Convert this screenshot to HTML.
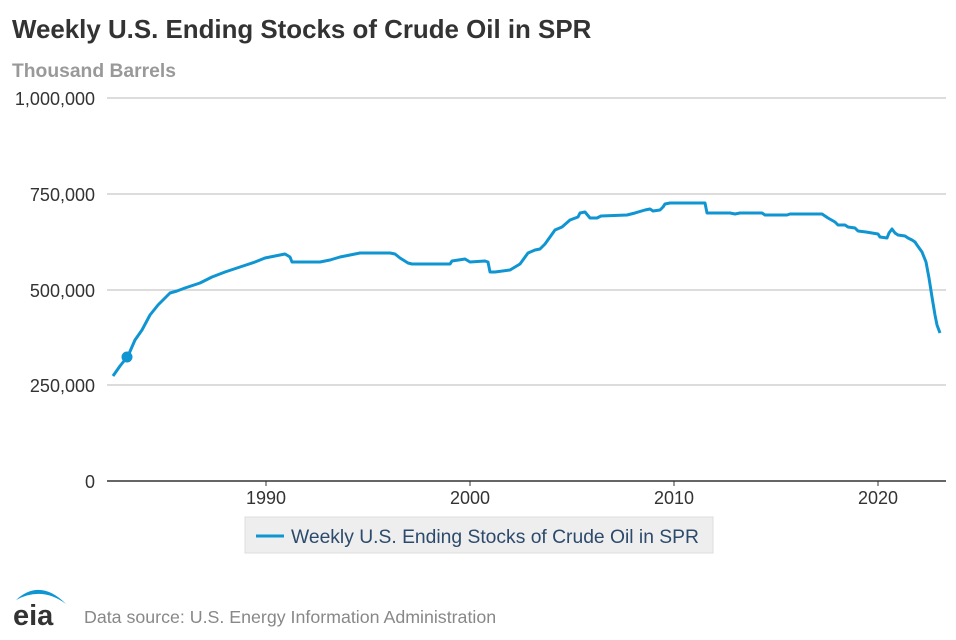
<!DOCTYPE html>
<html><head><meta charset="utf-8"><style>
body{margin:0;background:#fff;width:956px;height:635px;overflow:hidden;font-family:"Liberation Sans",Arial,sans-serif}
</style></head><body>
<svg width="956" height="635" xmlns="http://www.w3.org/2000/svg" font-family="Liberation Sans, Arial, sans-serif">
<text x="12" y="38" font-size="25.9" font-weight="bold" fill="#333">Weekly U.S. Ending Stocks of Crude Oil in SPR</text>
<text x="12" y="77" font-size="19.3" font-weight="bold" fill="#999">Thousand Barrels</text>
<g stroke="#c8c8c8" stroke-width="1.3">
<line x1="107" y1="98" x2="946" y2="98"/><line x1="107" y1="194" x2="946" y2="194"/>
<line x1="107" y1="290" x2="946" y2="290"/><line x1="107" y1="385" x2="946" y2="385"/>
</g>
<line x1="107" y1="481" x2="946" y2="481" stroke="#333" stroke-width="1.5"/>
<g stroke="#333" stroke-width="1"><line x1="266" y1="481" x2="266" y2="486"/><line x1="470" y1="481" x2="470" y2="486"/><line x1="674" y1="481" x2="674" y2="486"/><line x1="878" y1="481" x2="878" y2="486"/></g>
<g font-size="18" fill="#333" text-anchor="end">
<text x="95" y="105">1,000,000</text><text x="95" y="201">750,000</text><text x="95" y="297">500,000</text><text x="95" y="392">250,000</text><text x="95" y="488">0</text>
</g>
<g font-size="18" fill="#333" text-anchor="middle">
<text x="266" y="504">1990</text><text x="470" y="504">2000</text><text x="674" y="504">2010</text><text x="878" y="504">2020</text>
</g>
<polyline fill="none" stroke="#0f95d2" stroke-width="3" stroke-linejoin="round" points="113,376 120,366 128,356 135,340 142,330 150,315 158,305 165,298 170,293 177,291 185,288 200,283 212,277 225,272 240,267 255,262 265,258 275,256 285,254 290,257 292,262 300,262 320,262 330,260 340,257 350,255 360,253 390,253 395,254 400,258 408,263 412,264 450,264 452,261 465,259 470,262 485,261 488,262 490,272 495,272 510,270 520,264 528,253 535,250 540,249 545,244 550,237 555,230 562,227 570,220 578,217 580,213 585,212 590,218 597,218 601,216 627,215 635,213 645,210 650,209 653,211 660,210 663,207 665,204 670,203 705,203 707,213 730,213 735,214 740,213 762,213 765,215 787,215 790,214 822,214 828,218 835,222 838,225 845,225 848,227 855,228 858,231 866,232 878,234 880,237 887,238 889,233 892,229 895,233 898,235 905,236 908,238 912,240 915,242 917,245 922,252 926,262 929,278 932,297 935,315 937,325 940,333"/>
<circle cx="127" cy="357" r="5.5" fill="#0f95d2"/>
<rect x="245" y="517" width="468" height="36" fill="#eee" stroke="#ddd"/>
<line x1="256" y1="536" x2="284" y2="536" stroke="#0f95d2" stroke-width="3"/>
<text x="291" y="543" font-size="19.3" fill="#2c4a6b">Weekly U.S. Ending Stocks of Crude Oil in SPR</text>
<path d="M16 600 Q40 578 66 604 Q42 586 16 600Z" fill="#0f95d2"/>
<text x="13" y="625" font-size="29" font-weight="bold" fill="#333">eia</text>
<text x="84" y="623" font-size="17.8" fill="#888">Data source: U.S. Energy Information Administration</text>
</svg>
</body></html>
